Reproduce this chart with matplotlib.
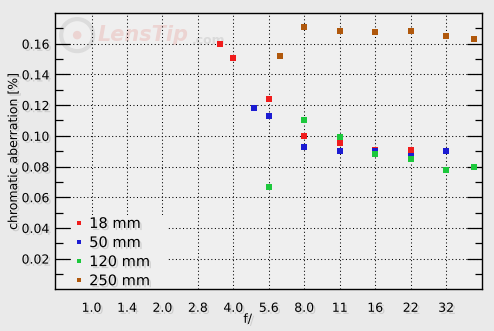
import numpy as np
import matplotlib.pyplot as plt
import matplotlib.patheffects as pe
from matplotlib.patches import Ellipse, Rectangle

# f-stop labels on the x axis (evenly spaced, one stop apart)
stops = ['1.0', '1.4', '2.0', '2.8', '4.0', '5.6', '8.0', '11', '16', '22', '32']

# chromatic aberration [%], per focal length
f_18 = [3.5, 4.0, 5.6, 8.0, 11, 16, 22]
ca_18 = [0.160, 0.151, 0.124, 0.100, 0.095, 0.091, 0.091]

f_50 = [4.9, 5.6, 8.0, 11, 16, 22, 32]
ca_50 = [0.118, 0.113, 0.093, 0.090, 0.090, 0.087, 0.090]

f_120 = [5.6, 8.0, 11, 16, 22, 32, 42]
ca_120 = [0.0666, 0.110, 0.099, 0.088, 0.085, 0.0776, 0.080]

f_250 = [6.3, 8.0, 11, 16, 22, 32, 42]
ca_250 = [0.152, 0.171, 0.168, 0.1676, 0.168, 0.165, 0.163]


def stop_pos(f):
    # position in stops from f/1.0, nominal stops snapped to whole numbers
    p = 2 * np.log2(np.asarray(f, dtype=float))
    r = np.round(p)
    return np.where(np.abs(p - r) < 0.1, r, p)


shadow = [pe.withSimplePatchShadow(offset=(1.5, -1.5), shadow_rgbFace='0.6', alpha=0.35)]
axbg = '#efefef'

plt.rcParams['font.family'] = ['DejaVu Sans']
fig = plt.figure(figsize=(4.94, 3.31), dpi=100, facecolor='#eaeaea')
ax = fig.add_axes([0.1113, 0.126, 0.8634, 0.8347], facecolor=axbg)

series = [
    (f_18, ca_18, '#f01c1c', '18 mm'),
    (f_50, ca_50, '#1c1cd2', '50 mm'),
    (f_120, ca_120, '#1cc83c', '120 mm'),
    (f_250, ca_250, '#b0580c', '250 mm'),
]
for f, ca, col, lab in series:
    ax.plot(stop_pos(f), ca, 's', color=col, markersize=3.8, mew=0, label=lab, zorder=3)

ax.set_xlim(-1.03, 11.0)
ax.set_ylim(0, 0.18)
ax.set_xticks(range(len(stops)))
ax.set_xticklabels(stops)
ax.set_yticks(np.arange(0.02, 0.17, 0.02))
ax.set_yticks(np.arange(0.01, 0.18, 0.01), minor=True)
ax.yaxis.set_major_formatter(plt.FormatStrFormatter('%.2f'))

ax.tick_params(axis='y', which='major', direction='in', length=10.8, width=0.9,
               left=True, right=True, labelsize=9, pad=4)
ax.tick_params(axis='y', which='minor', direction='in', length=5.4, width=0.9,
               left=True, right=True)
ax.tick_params(axis='x', length=0, labelsize=9, pad=9)

ax.grid(True, which='major', color='black', linewidth=0.75, linestyle=(0, (1, 2.4)))
for s in ax.spines.values():
    s.set_linewidth(1.0)

for t in ax.get_xticklabels() + ax.get_yticklabels():
    t.set_path_effects(shadow)

ax.set_ylabel('chromatic aberration [%]', fontsize=9, labelpad=1, path_effects=shadow)
ax.set_xlabel('f/', fontsize=9, labelpad=0, path_effects=shadow)
ax.xaxis.set_label_coords(0.452, -0.085)

# faint watermark
ax.add_patch(Ellipse((0.052, 0.92), 0.075, 0.116, transform=ax.transAxes, fill=False,
                     edgecolor='#dcdcdc', linewidth=3, zorder=1))
ax.add_patch(Ellipse((0.052, 0.92), 0.02, 0.031, transform=ax.transAxes,
                     facecolor='#ecd4d2', edgecolor='none', zorder=1))
wm = ax.text(0.10, 0.92, 'LensTip', transform=ax.transAxes, fontsize=15, fontweight='bold',
             fontstyle='italic', color='#ecd4d2', va='center', zorder=1)
fig.canvas.draw()
bb = wm.get_window_extent().transformed(ax.transAxes.inverted())
ax.text(bb.x1 + 0.008, 0.90, '.com', transform=ax.transAxes, fontsize=9, fontweight='bold',
        color='#dadada', va='center', zorder=1)

# legend area hides the grid behind it
ax.add_patch(Rectangle((0.038, 0.0), 0.224, 0.268, transform=ax.transAxes,
                       facecolor=axbg, edgecolor='none', zorder=1.6))

leg = ax.legend(loc='lower left', bbox_to_anchor=(0.046, 0.004), fontsize=10.5,
                frameon=False, borderaxespad=0, borderpad=0,
                handlelength=0.6, handletextpad=0.4, labelspacing=0.28, markerscale=0.8)
leg.set_zorder(5)
for t in leg.get_texts():
    t.set_path_effects(shadow)

fig.savefig('out.png', dpi=100, facecolor=fig.get_facecolor())
